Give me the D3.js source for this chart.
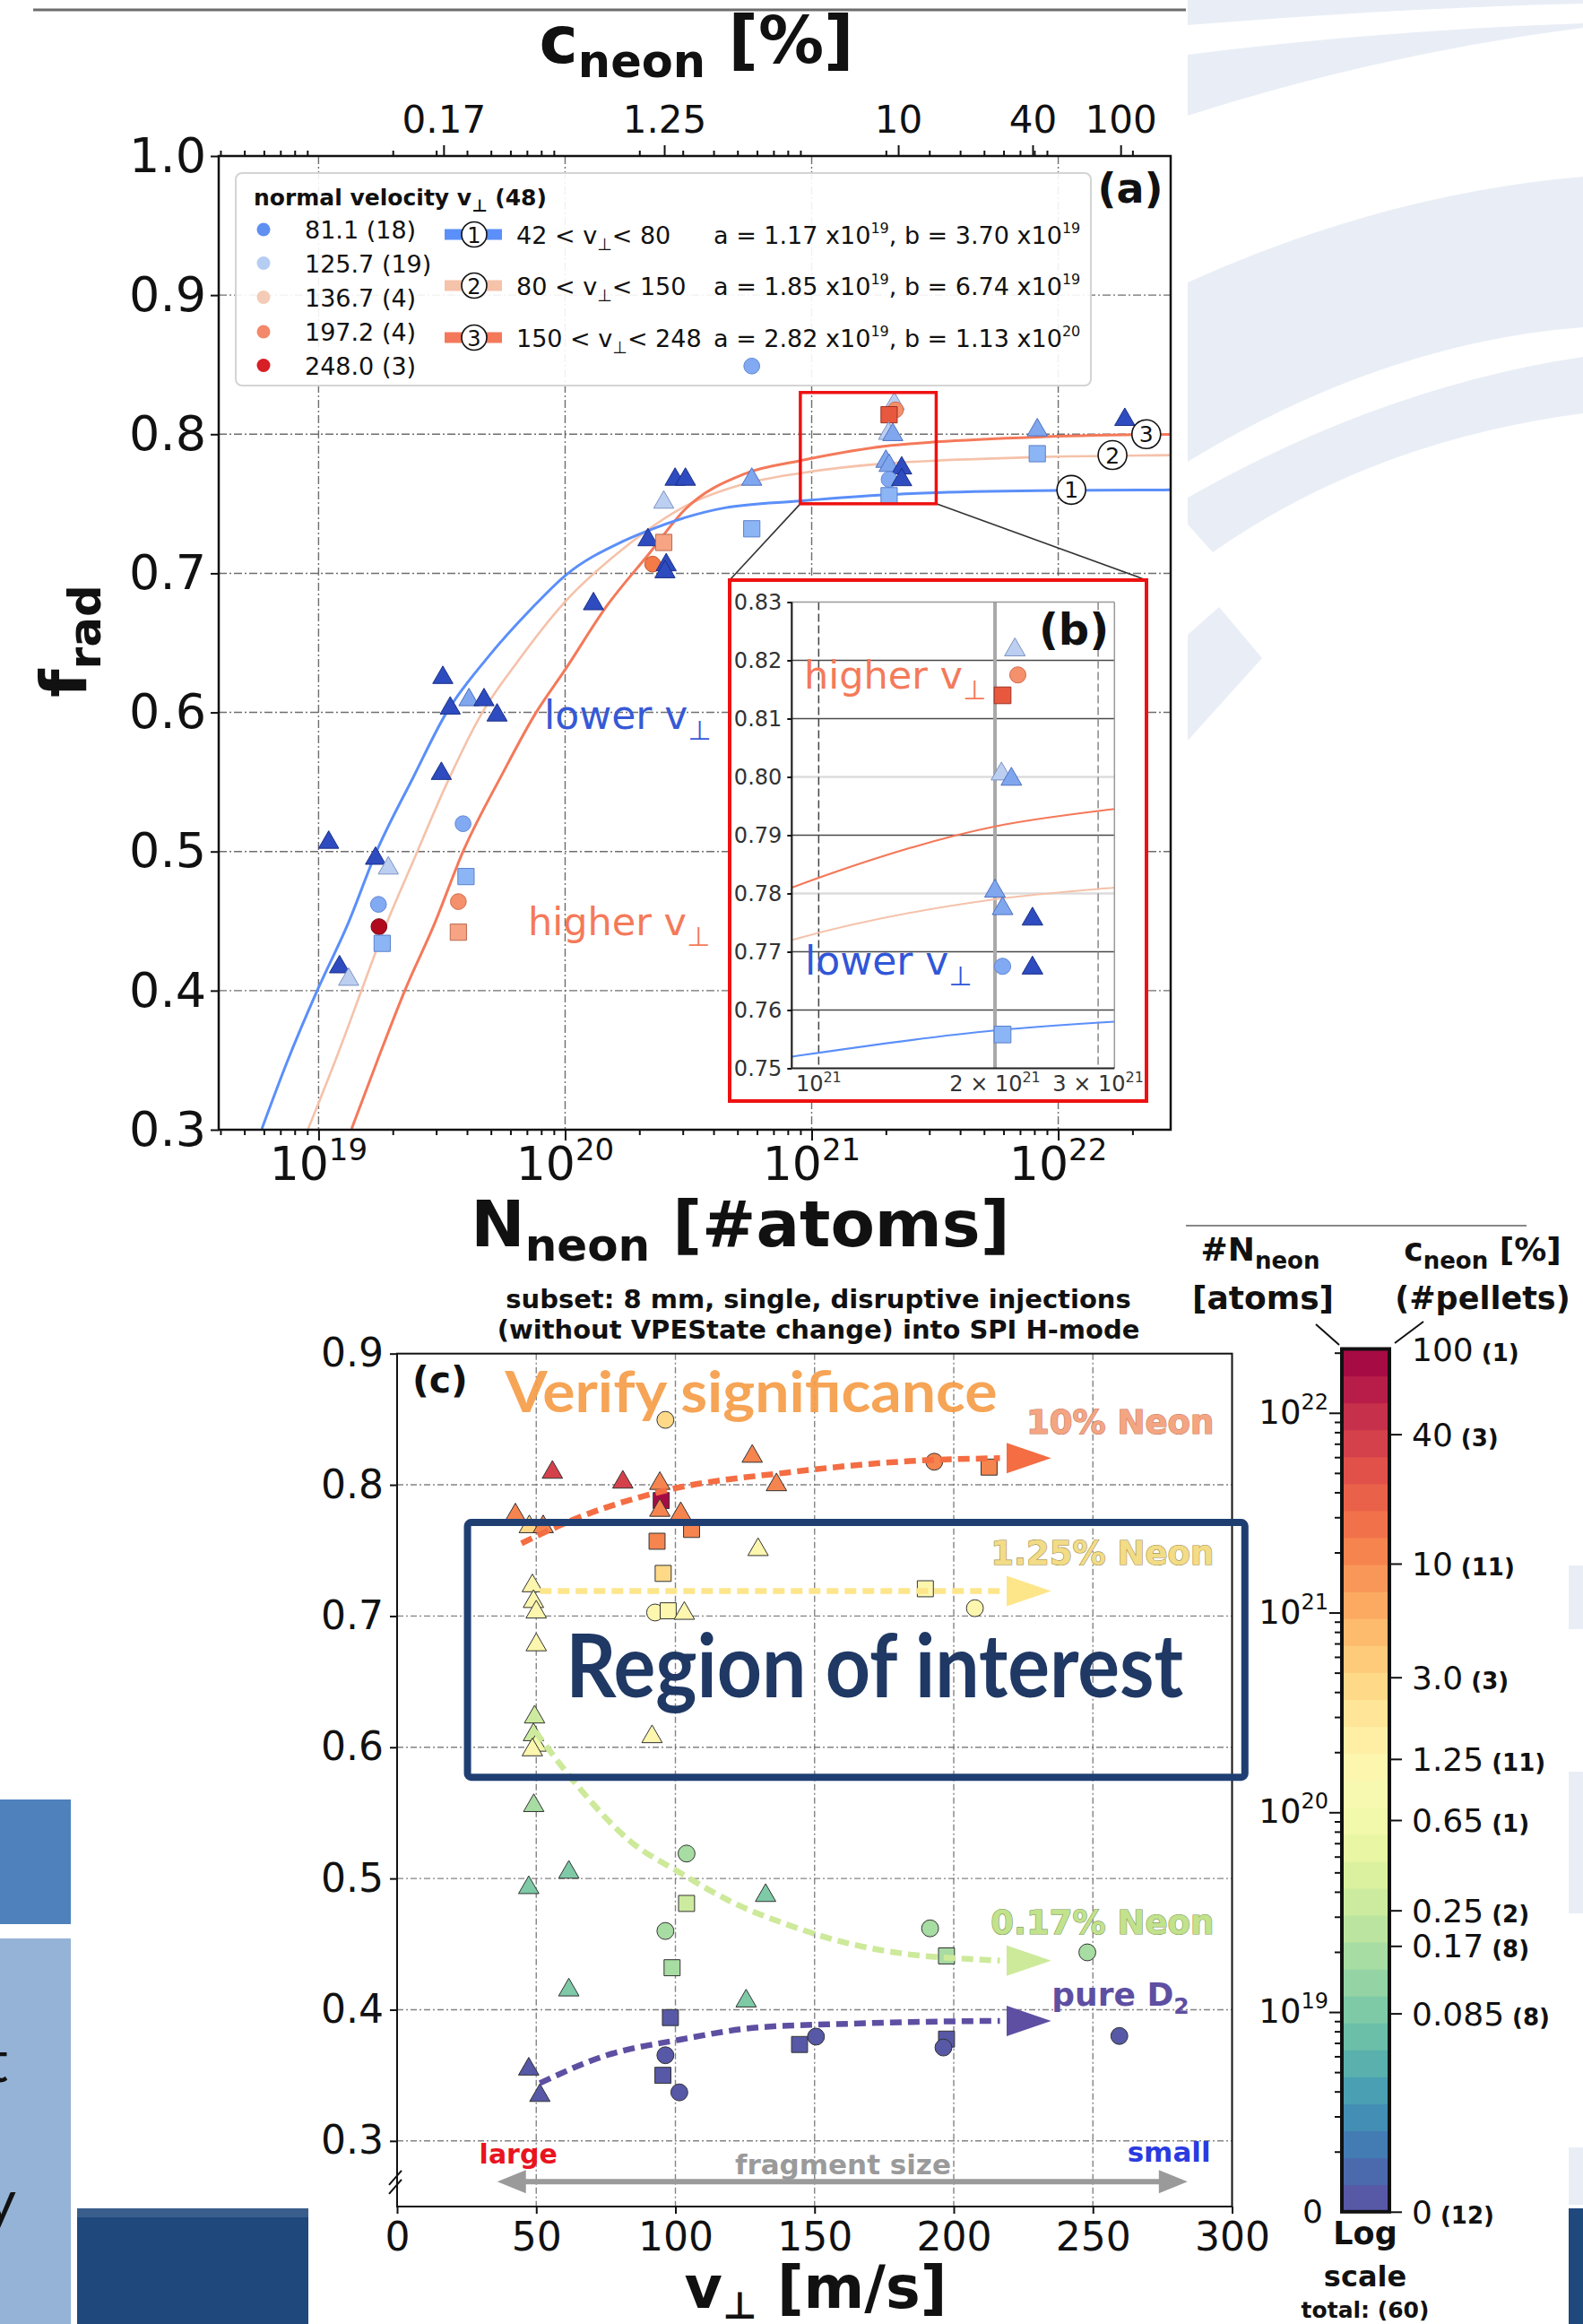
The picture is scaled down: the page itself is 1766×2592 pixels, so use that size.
<!DOCTYPE html>
<html>
<head>
<meta charset="utf-8">
<script src="https://d3js.org/d3.v7.min.js"></script>
<style>
  html, body { margin: 0; padding: 0; background: #ffffff; }
  svg { display: block; }
</style>
</head>
<body>
<svg id="fig" width="1766" height="2592" xmlns="http://www.w3.org/2000/svg"></svg>
<script>
// ================= data =================
// panel (a): radiated fraction vs. injected neon atoms (log10 N)
const aExp = [19.041,19.231,19.283,19.243,19.245,19.258,19.085,19.122,19.504,19.534,19.610,19.671,19.724,19.498,19.586,19.598,19.567,19.567,
              20.115,20.336,20.400,20.355,20.410,20.405,20.400,20.446,20.488,20.757,20.757,20.757,21.915,21.915,22.270,
              21.335,21.340,21.314,21.312,21.329,21.301,21.314,21.365,21.314,21.365,21.314];
const aFrad = [0.5065,0.495,0.488,0.462,0.446,0.434,0.417,0.408,0.625,0.603,0.609,0.609,0.598,0.556,0.520,0.482,0.464,0.442,
               0.678,0.724,0.7222,0.7066,0.706,0.701,0.751,0.7675,0.7675,0.7675,0.732,0.849,0.803,0.786,0.8105,
               0.8218,0.8175,0.814,0.8005,0.7996,0.7804,0.7774,0.7756,0.7675,0.7672,0.7558];
const aShape = ['tri','tri','tri','circ','circ','sq','tri','tri','tri','tri','tri','tri','tri','tri','circ','sq','circ','sq',
                'tri','tri','sq','circ','tri','tri','tri','tri','tri','tri','sq','circ','tri','sq','tri',
                'tri','circ','sq','tri','tri','tri','tri','tri','circ','tri','sq'];
const aTone = ['dark','dark','light','blue','darkred','ltsq','dark','light','dark','dark','mid','dark','dark','dark','blue','ltsq','salmon','salmonsq',
               'dark','dark','salmonsq','orange','dark','dark','light','dark','dark','mid','ltsq','blue','mid','ltsq','dark',
               'light','salmon','red','light','mid','mid','mid','dark','blue','dark','ltsq'];

// fitted saturation curves (log10 N, f_rad)
const fit1Exp = [18.77,18.873,19.0,19.116,19.237,19.383,19.516,19.685,19.867,20.0,20.231,20.327,20.485,20.648,20.954,21.301,21.505,21.996,22.5];
const fit1F   = [0.3007,0.349,0.4022,0.4467,0.5008,0.553,0.599,0.6393,0.6753,0.6983,0.7227,0.730,0.740,0.7471,0.752,0.7565,0.758,0.7596,0.760];
const fit2Exp = [18.958,19.079,19.176,19.273,19.383,19.516,19.661,19.807,20.0,20.231,20.485,20.732,20.954,21.301,21.505,21.912,22.5];
const fit2F   = [0.3007,0.3548,0.401,0.447,0.4927,0.5473,0.599,0.6365,0.6796,0.717,0.748,0.7645,0.772,0.779,0.781,0.7835,0.785];
const fit3Exp = [19.134,19.237,19.352,19.467,19.588,19.746,19.879,20.0,20.17,20.34,20.485,20.732,20.954,21.301,21.505,21.912,22.5];
const fit3F   = [0.3007,0.349,0.401,0.4467,0.5008,0.556,0.599,0.6307,0.6768,0.714,0.7457,0.7718,0.781,0.7915,0.7945,0.798,0.800];
const fitLabelExp = [22.053, 22.22, 22.357];

// velocity classes in the legend
const velValues = ['81.1','125.7','136.7','197.2','248.0'];
const velCounts = [18,19,4,4,3];
const velRanges = [['42','80'],['80','150'],['150','248']];
const fitA = ['1.17','1.85','2.82'];  const fitAExp = ['19','19','19'];
const fitB = ['3.70','6.74','1.13'];  const fitBExp = ['19','19','20'];

// axis ticks of panel (a)
const nDecades = [19,20,21,22];
const fTicksA = [0.3,0.4,0.5,0.6,0.7,0.8,0.9,1.0];
const cTopLabels = ['0.17','1.25','10','40','100'];
const cTopExp = [19.507,20.402,21.351,21.896,22.253];

// inset (b) window
const insetExp = [20.954, 21.505];
const insetF = [0.75, 0.83];
const insetYTicks = [0.75,0.76,0.77,0.78,0.79,0.80,0.81,0.82,0.83];
const insetXTicks = [1, 2, 3];

// panel (c): radiated fraction vs. normal velocity, coloured by neon content
const cVel  = [96.4,55.8,81.1,127.6,136.3,193.0,212.7,42.5,47.5,52.5,94.4,94.9,94.4,101.9,105.8,93.4,95.6,129.7,189.8,207.6,92.7,97.4,103.2,
               48.6,49.0,50.0,50.0,49.4,49.0,50.0,48.6,91.6,49.1,104.0,47.3,61.7,104.0,132.4,96.4,98.8,191.5,197.4,248.0,61.7,125.4,
               98.2,150.5,144.6,259.5,197.4,196.3,96.4,95.5,101.4,47.3,51.3];
const cFrad = [0.8495,0.8095,0.802,0.8217,0.800,0.8176,0.8135,0.777,0.768,0.768,0.801,0.788,0.7805,0.778,0.766,0.757,0.7325,0.7506,0.7208,0.706,0.7027,0.704,0.702,
               0.723,0.711,0.703,0.678,0.623,0.6095,0.6015,0.598,0.608,0.5555,0.519,0.493,0.5047,0.481,0.487,0.460,0.432,0.462,0.441,0.4437,0.415,0.4066,
               0.394,0.3795,0.3735,0.380,0.3776,0.3712,0.3653,0.350,0.337,0.3547,0.3346];
const cShape = ['circ','tri','tri','tri','tri','circ','sq','tri','tri','tri','tri','sq','tri','tri','sq','sq','sq','tri','sq','circ','circ','sq','tri',
                'tri','tri','tri','tri','tri','tri','tri','tri','tri','tri','circ','tri','tri','sq','tri','circ','sq','circ','sq','circ','tri','tri',
                'sq','circ','sq','circ','sq','circ','circ','sq','circ','tri','tri'];
const cConc = [3.0,40,40,10,10,10,10,10,3.0,10,10,100,10,10,10,10,3.0,1.25,1.25,1.25,1.25,1.25,1.25,
               1.25,1.25,1.25,1.25,0.25,0.25,0.65,1.25,1.25,0.17,0.17,0.085,0.085,0.25,0.085,0.17,0.17,0.17,0.17,0.17,0.085,0.085,
               0,0,0,0,0,0,0,0,0,0,0];

// trend arrows of panel (c)
const trend10Vel = [44.7,64.4,97.1,140.7,184.3,216.6];
const trend10F   = [0.7554,0.7744,0.796,0.8095,0.8181,0.8203];
const trend125Vel = [51.3,216.6];
const trend125F   = [0.719,0.719];
const trend017Vel = [49.7,64.4,84.0,101.4,118.9,140.7,162.5,184.3,206.1,216.6];
const trend017F   = [0.612,0.5717,0.528,0.5047,0.4835,0.4645,0.4504,0.4421,0.4386,0.4374];
const trendD2Vel = [51.3,75.3,101.4,129.7,162.5,195.2,216.6];
const trendD2F   = [0.344,0.3653,0.3771,0.3865,0.3893,0.391,0.3915];
const velTicksC = [0,50,100,150,200,250,300];
const fTicksC = [0.3,0.4,0.5,0.6,0.7,0.8,0.9];

// colour bar
const cbarConc = [100,40,10,3.0,1.25,0.65,0.25,0.17,0.085,0];
const cbarConcLabel = ['100','40','10','3.0','1.25','0.65','0.25','0.17','0.085','0'];
const cbarPellets = [1,3,11,3,11,1,2,8,8,12];
const cbarLogN = [22.32,21.893,21.245,20.676,20.267,19.961,19.509,19.331,18.993,18.0];
const cbarDecades = [19,20,21,22];
const cbarBands = 32;

// ================= drawing =================
const svg = d3.select('#fig');
const DJ = "'DejaVu Sans', Verdana, sans-serif";
const SLIDE = "Lato, 'Open Sans', sans-serif";

function rich(parent, x, y, parts, style) {
  const t = parent.append('text').attr('x', x).attr('y', y);
  Object.entries(style || {}).forEach(([k, v]) => t.style(k, v));
  let cur = 0;
  parts.forEach(p => {
    const s = t.append('tspan').text(p.t);
    const off = p.off || 0;
    if (off !== cur) { s.attr('dy', off - cur); cur = off; }
    if (p.fs) s.style('font-size', p.fs + 'px');
    if (p.fw) s.style('font-weight', p.fw);
    if (p.fill) s.style('fill', p.fill);
  });
  return t;
}
function styleAxis(g, fs, col) {
  g.select('.domain').remove();
  g.selectAll('.tick line').attr('stroke', col || '#111').attr('stroke-width', 2);
  g.selectAll('.tick text').style('font-family', DJ).style('font-size', fs + 'px').attr('fill', '#111');
}
const symType = { tri: d3.symbolTriangle, circ: d3.symbolCircle, sq: d3.symbolSquare };

// ---------- slide background decoration ----------
const deco = svg.append('g');
[
  'M1325,0 L1766,0 L1766,4 Q1540,10 1325,28 Z',
  'M1325,61 Q1540,34 1766,26 L1766,31 Q1540,60 1325,129 Z',
  'M1325,315 Q1544,216 1766,197 L1766,365 Q1544,382 1325,515 Z',
  'M1325,555 Q1544,431 1766,398 L1766,461 Q1530,492 1353,616 L1325,585 Z',
  'M1325,708 L1360,677 L1408,734 L1325,826 Z'
].forEach(d => deco.append('path').attr('d', d).attr('fill', '#e9eef6'));
deco.append('rect').attr('x', 1750).attr('y', 1746).attr('width', 16).attr('height', 71).attr('fill', '#e9eef6');
deco.append('rect').attr('x', 1750).attr('y', 1976).attr('width', 16).attr('height', 158).attr('fill', '#e9eef6');
deco.append('rect').attr('x', 1750).attr('y', 2395).attr('width', 16).attr('height', 64).attr('fill', '#e9eef6');
deco.append('rect').attr('x', 1750).attr('y', 2463).attr('width', 16).attr('height', 129).attr('fill', '#1f497d');
deco.append('rect').attr('x', 0).attr('y', 2007).attr('width', 79).attr('height', 139).attr('fill', '#4f81bd');
deco.append('rect').attr('x', 0).attr('y', 2162).attr('width', 79).attr('height', 430).attr('fill', '#95b3d7');
deco.append('rect').attr('x', 86).attr('y', 2463).attr('width', 258).attr('height', 129).attr('fill', '#1f497d');
deco.append('rect').attr('x', 86).attr('y', 2463).attr('width', 258).attr('height', 10).attr('fill', '#3a5e8c');
deco.append('text').attr('x', 9).attr('y', 2322).attr('text-anchor', 'end').style('font-family', SLIDE).style('font-size', '66px').attr('fill', '#111').text('t');
deco.append('text').attr('x', 18).attr('y', 2478).attr('text-anchor', 'end').style('font-family', SLIDE).style('font-size', '66px').attr('fill', '#111').text('y');
svg.append('line').attr('x1', 37).attr('x2', 1323).attr('y1', 11).attr('y2', 11).attr('stroke', '#6d6d6d').attr('stroke-width', 3);

// ================= panel (a) =================
const A = { L: 244, R: 1306, T: 174, B: 1260 };
const xA = d3.scaleLog().domain([10 ** 18.595, 10 ** 22.456]).range([A.L, A.R]);
const yA = d3.scaleLinear().domain([0.3, 1.0]).range([A.B, A.T]);
const gA = svg.append('g');
const defs = svg.append('defs');
defs.append('clipPath').attr('id', 'clipA').append('rect').attr('x', A.L).attr('y', A.T).attr('width', A.R - A.L).attr('height', A.B - A.T);

const gridStyle = sel => sel.attr('stroke', '#555').attr('stroke-width', 1.4).attr('stroke-dasharray', '9,3,2,3').attr('opacity', 0.85);
gA.append('g').selectAll('line').data(nDecades).join('line')
  .attr('x1', d => xA(10 ** d)).attr('x2', d => xA(10 ** d)).attr('y1', A.T).attr('y2', A.B).call(gridStyle);
gA.append('g').selectAll('line').data(fTicksA.slice(1, -1)).join('line')
  .attr('x1', A.L).attr('x2', A.R).attr('y1', d => yA(d)).attr('y2', d => yA(d)).call(gridStyle);

// log minor ticks shared by the N axes
const minorA = [];
[18, 19, 20, 21, 22].forEach(e => d3.range(2, 10).forEach(k => {
  const v = k * 10 ** e; if (v > xA.domain()[0] && v < xA.domain()[1]) minorA.push(v);
}));
gA.append('g').attr('transform', `translate(0,${A.B})`).call(d3.axisBottom(xA).tickValues(minorA).tickSize(6).tickFormat('')).call(styleAxis, 10);
gA.append('g').attr('transform', `translate(0,${A.B})`).call(d3.axisBottom(xA).tickValues(nDecades.map(d => 10 ** d)).tickSize(12).tickFormat('')).call(styleAxis, 10);
gA.append('g').attr('transform', `translate(0,${A.T})`).call(d3.axisTop(xA).tickValues(minorA).tickSize(6).tickFormat('')).call(styleAxis, 10);
gA.append('g').attr('transform', `translate(0,${A.T})`)
  .call(d3.axisTop(xA).tickValues(cTopExp.map(d => 10 ** d)).tickSize(12).tickPadding(14).tickFormat((d, i) => cTopLabels[i]))
  .call(styleAxis, 42);
gA.append('g').attr('transform', `translate(${A.L},0)`)
  .call(d3.axisLeft(yA).tickValues(fTicksA).tickSize(9).tickPadding(5).tickFormat(d3.format('.1f')))
  .call(styleAxis, 54);
nDecades.forEach(d => rich(gA, xA(10 ** d), 1316, [{ t: '10' }, { t: String(d), fs: 34, off: -22 }],
  { 'font-family': DJ, 'font-size': '52px', 'text-anchor': 'middle', fill: '#111' }));

// titles
rich(gA, 777, 70, [{ t: 'c' }, { t: 'neon', fs: 51, off: 16 }, { t: ' [%]', off: 0 }],
  { 'font-family': DJ, 'font-size': '73px', 'font-weight': 'bold', 'text-anchor': 'middle', fill: '#111' });
rich(gA, 826, 1390, [{ t: 'N' }, { t: 'neon', fs: 50, off: 16 }, { t: ' [#atoms]', off: 0 }],
  { 'font-family': DJ, 'font-size': '72px', 'font-weight': 'bold', 'text-anchor': 'middle', fill: '#111' });
rich(gA, 0, 0, [{ t: 'f' }, { t: 'rad', fs: 50, off: 16 }],
  { 'font-family': DJ, 'font-size': '72px', 'font-weight': 'bold', 'text-anchor': 'middle', fill: '#111' })
  .attr('transform', 'translate(96,715) rotate(-90)');

// fitted curves
const tonesFit = ['#5b8ff9', '#f5c2aa', '#f4795a'];
const fits = [[fit1Exp, fit1F], [fit2Exp, fit2F], [fit3Exp, fit3F]];
const fitPath = (sx, sy, k) => d3.line().curve(d3.curveMonotoneX)(fits[k][0].map((e, i) => [sx(10 ** e), sy(fits[k][1][i])]));
const gFitA = gA.append('g').attr('clip-path', 'url(#clipA)');
[1, 2, 0].forEach(k => gFitA.append('path').attr('d', fitPath(xA, yA, k)).attr('fill', 'none')
  .attr('stroke', tonesFit[k]).attr('stroke-width', k === 1 ? 2.6 : 3));

// legend
const gLeg = gA.append('g');
gLeg.append('rect').attr('x', 263).attr('y', 193).attr('width', 954).attr('height', 237).attr('rx', 7)
  .attr('fill', '#ffffff').attr('fill-opacity', 0.9).attr('stroke', '#d4d4d4').attr('stroke-width', 2);
rich(gLeg, 283, 229, [{ t: 'normal velocity v' }, { t: '⊥', fs: 19, off: 7 }, { t: ' (48)', off: 0 }],
  { 'font-family': DJ, 'font-size': '25px', 'font-weight': 'bold', fill: '#111' });
const velColors = ['#5f8ff0', '#b6cdf2', '#f4cbb6', '#f4886a', '#d71f26'];
const legRowY = [256, 293.5, 331.5, 370, 407.5];
velValues.forEach((v, i) => {
  gLeg.append('circle').attr('cx', 294).attr('cy', legRowY[i]).attr('r', 7.5).attr('fill', velColors[i]);
  gLeg.append('text').attr('x', 340).attr('y', legRowY[i] + 10).style('font-family', DJ).style('font-size', '27px')
    .attr('fill', '#111').text(`${v} (${velCounts[i]})`);
});
const fitRowY = [261.5, 318.5, 376.5];
const fitLegColors = ['#5b8ff9', '#f5c2aa', '#f4795a'];
velRanges.forEach((r, i) => {
  gLeg.append('rect').attr('x', 496).attr('y', fitRowY[i] - 6).attr('width', 64).attr('height', 12).attr('fill', fitLegColors[i]);
  gLeg.append('circle').attr('cx', 529).attr('cy', fitRowY[i]).attr('r', 14).attr('fill', '#fff').attr('stroke', '#111').attr('stroke-width', 1.6);
  gLeg.append('text').attr('x', 529).attr('y', fitRowY[i] + 9).attr('text-anchor', 'middle').style('font-family', DJ).style('font-size', '24px').attr('fill', '#111').text(String(i + 1));
  rich(gLeg, 576, fitRowY[i] + 10, [{ t: `${r[0]} < v` }, { t: '⊥', fs: 19, off: 7 }, { t: `< ${r[1]}`, off: 0 }],
    { 'font-family': DJ, 'font-size': '27px', fill: '#111' });
  rich(gLeg, 796, fitRowY[i] + 10, [{ t: `a = ${fitA[i]} x10` }, { t: fitAExp[i], fs: 16, off: -12 },
    { t: `, b = ${fitB[i]} x10`, off: 0 }, { t: fitBExp[i], fs: 16, off: -12 }],
    { 'font-family': DJ, 'font-size': '27px', fill: '#111' });
});
gA.append('text').attr('x', 1261).attr('y', 226).attr('text-anchor', 'middle').style('font-family', DJ).style('font-size', '46px')
  .style('font-weight', 'bold').attr('fill', '#111').text('(a)');

// markers
const tone = {
  dark: ['#2e4cc0', '#1b2f86'], mid: ['#80a7ed', '#4d70c2'], light: ['#bccff1', '#7b92c2'], blue: ['#82aaf2', '#5f86d6'],
  ltsq: ['#8cb5f5', '#5a80cc'], salmon: ['#f4906c', '#d06c4c'], salmonsq: ['#f6a483', '#b86a50'], orange: ['#f47a48', '#c55a30'],
  red: ['#e8583e', '#9c3020'], darkred: ['#b10a1d', '#7a0010']
};
const symSizeA = { tri: 220, circ: 245, sq: 330 };
function drawPointsA(parent, sx, sy, idx, scale) {
  parent.selectAll('path.pt').data(idx).join('path').attr('class', 'pt')
    .attr('transform', i => `translate(${sx(10 ** aExp[i])},${sy(aFrad[i])})`)
    .attr('d', i => d3.symbol(symType[aShape[i]], symSizeA[aShape[i]] * scale)())
    .attr('fill', i => tone[aTone[i]][0]).attr('stroke', i => tone[aTone[i]][1]).attr('stroke-width', 1);
}
drawPointsA(gA.append('g').attr('clip-path', 'url(#clipA)'), xA, yA, d3.range(aExp.length), 1);

// circled curve numbers
[0, 1, 2].forEach(k => {
  const cx = xA(10 ** fitLabelExp[k]), cy = yA(fits[k][1][fits[k][1].length - 1]);
  gA.append('circle').attr('cx', cx).attr('cy', cy).attr('r', 16).attr('fill', '#fff').attr('stroke', '#111').attr('stroke-width', 1.6);
  gA.append('text').attr('x', cx).attr('y', cy + 9).attr('text-anchor', 'middle').style('font-family', DJ).style('font-size', '25px').attr('fill', '#111').text(String(k + 1));
});

// annotations in (a)
rich(gA, 607, 813, [{ t: 'lower v' }, { t: '⊥', fs: 30, off: 12 }], { 'font-family': DJ, 'font-size': '44px', fill: '#3659d6' });
rich(gA, 589, 1043, [{ t: 'higher v' }, { t: '⊥', fs: 30, off: 12 }], { 'font-family': DJ, 'font-size': '43px', fill: '#f47a5a' });

// frame of (a)
gA.append('rect').attr('x', A.L).attr('y', A.T).attr('width', A.R - A.L).attr('height', A.B - A.T)
  .attr('fill', 'none').attr('stroke', '#111').attr('stroke-width', 2.5);

// zoom window and connectors
const zx0 = xA(10 ** insetExp[0]), zx1 = xA(10 ** insetExp[1]), zy0 = yA(insetF[1]), zy1 = yA(insetF[0]);
const FR = { L: 814, R: 1279, T: 647, B: 1228 };
gA.append('line').attr('x1', zx0).attr('y1', zy1).attr('x2', FR.L).attr('y2', FR.T).attr('stroke', '#333').attr('stroke-width', 1.6);
gA.append('line').attr('x1', zx1).attr('y1', zy1).attr('x2', FR.R).attr('y2', FR.T).attr('stroke', '#333').attr('stroke-width', 1.6);
gA.append('rect').attr('x', zx0).attr('y', zy0).attr('width', zx1 - zx0).attr('height', zy1 - zy0)
  .attr('fill', 'none').attr('stroke', '#ee1111').attr('stroke-width', 3.5);

// ================= inset (b) =================
const gB = svg.append('g');
const B = { L: 883.3, R: 1243.3, T: 671.5, B: 1191.5 };
const xB = d3.scaleLog().domain(insetExp.map(e => 10 ** e)).range([B.L, B.R]);
const yB = d3.scaleLinear().domain(insetF).range([B.B, B.T]);
gB.append('rect').attr('x', FR.L).attr('y', FR.T).attr('width', FR.R - FR.L).attr('height', FR.B - FR.T).attr('fill', '#fff');
defs.append('clipPath').attr('id', 'clipB').append('rect').attr('x', B.L).attr('y', B.T).attr('width', B.R - B.L).attr('height', B.B - B.T);
const faint = d => Math.abs(d - 0.80) < 1e-6 || Math.abs(d - 0.78) < 1e-6;
gB.selectAll('line.hg').data(insetYTicks.slice(1, -1)).join('line').attr('class', 'hg')
  .attr('x1', B.L).attr('x2', B.R).attr('y1', d => yB(d)).attr('y2', d => yB(d))
  .attr('stroke', d => faint(d) ? '#dcdcdc' : '#4a4a4a')
  .attr('stroke-width', d => faint(d) ? 2.5 : 1.6);
gB.append('line').attr('x1', xB(1e21)).attr('x2', xB(1e21)).attr('y1', B.T).attr('y2', B.B).attr('stroke', '#444').attr('stroke-width', 1.5).attr('stroke-dasharray', '9,4');
gB.append('line').attr('x1', xB(2e21)).attr('x2', xB(2e21)).attr('y1', B.T).attr('y2', B.B).attr('stroke', '#a9a9a9').attr('stroke-width', 4);
gB.append('line').attr('x1', xB(3e21)).attr('x2', xB(3e21)).attr('y1', B.T).attr('y2', B.B).attr('stroke', '#888').attr('stroke-width', 1.5).attr('stroke-dasharray', '9,4');
const gFitB = gB.append('g').attr('clip-path', 'url(#clipB)');
[1, 2, 0].forEach(k => gFitB.append('path').attr('d', fitPath(xB, yB, k)).attr('fill', 'none')
  .attr('stroke', tonesFit[k]).attr('stroke-width', k === 1 ? 2 : 2.2));
const insetIdx = d3.range(aExp.length).filter(i => aExp[i] >= insetExp[0] && aExp[i] <= insetExp[1] && aFrad[i] >= insetF[0] && aFrad[i] <= insetF[1]);
drawPointsA(gB.append('g'), xB, yB, insetIdx, 1.05);
gB.append('line').attr('x1', B.L).attr('x2', B.R).attr('y1', B.T).attr('y2', B.T).attr('stroke', '#999').attr('stroke-width', 1.5);
gB.append('line').attr('x1', B.R).attr('x2', B.R).attr('y1', B.T).attr('y2', B.B).attr('stroke', '#999').attr('stroke-width', 1.5);
gB.append('line').attr('x1', B.L).attr('x2', B.L).attr('y1', B.T).attr('y2', B.B).attr('stroke', '#222').attr('stroke-width', 2.2);
gB.append('line').attr('x1', B.L).attr('x2', B.R).attr('y1', B.B).attr('y2', B.B).attr('stroke', '#222').attr('stroke-width', 2.2);
gB.append('g').attr('transform', `translate(${B.L},0)`)
  .call(d3.axisLeft(yB).tickValues(insetYTicks).tickSize(5).tickPadding(6).tickFormat(d3.format('.2f')))
  .call(styleAxis, 24);
gB.selectAll('.tick text').attr('fill', '#333');
insetXTicks.forEach(m => {
  const parts = m === 1 ? [{ t: '10' }, { t: '21', fs: 16, off: -10 }] : [{ t: `${m} × 10` }, { t: '21', fs: 16, off: -10 }];
  rich(gB, xB(m * 1e21), 1217, parts, { 'font-family': DJ, 'font-size': '24px', 'text-anchor': 'middle', fill: '#333' });
});
gB.append('text').attr('x', 1198).attr('y', 719).attr('text-anchor', 'middle').style('font-family', DJ).style('font-size', '48px')
  .style('font-weight', 'bold').attr('fill', '#111').text('(b)');
rich(gB, 897, 768, [{ t: 'higher v' }, { t: '⊥', fs: 30, off: 12 }], { 'font-family': DJ, 'font-size': '43px', fill: '#f47a5a' });
rich(gB, 898, 1087, [{ t: 'lower v' }, { t: '⊥', fs: 30, off: 12 }], { 'font-family': DJ, 'font-size': '44px', fill: '#3156d8' });
gB.append('rect').attr('x', FR.L).attr('y', FR.T).attr('width', FR.R - FR.L).attr('height', FR.B - FR.T)
  .attr('fill', 'none').attr('stroke', '#ee1111').attr('stroke-width', 4);

// ================= panel (c) =================
const C = { L: 443, R: 1374.5, T: 1509.7, B: 2461 };
const xC = d3.scaleLinear().domain([0, 300]).range([C.L, C.R]);
const yC = d3.scaleLinear().domain([0.25, 0.9]).range([C.B, C.T]);
const gC = svg.append('g');
const gridC = sel => sel.attr('stroke', '#666').attr('stroke-width', 1.4).attr('stroke-dasharray', '7,3,2,3').attr('opacity', 0.8);
gC.append('g').selectAll('line').data(velTicksC.slice(1, -1)).join('line')
  .attr('x1', d => xC(d)).attr('x2', d => xC(d)).attr('y1', C.T).attr('y2', C.B).call(gridC);
gC.append('g').selectAll('line').data(fTicksC.slice(0, -1)).join('line')
  .attr('x1', C.L).attr('x2', C.R).attr('y1', d => yC(d)).attr('y2', d => yC(d)).call(gridC);
gC.append('g').attr('transform', `translate(0,${C.B})`)
  .call(d3.axisBottom(xC).tickValues(velTicksC).tickSize(8).tickPadding(10).tickFormat(d3.format('d')))
  .call(styleAxis, 44);
gC.append('g').attr('transform', `translate(${C.L},0)`)
  .call(d3.axisLeft(yC).tickValues(fTicksC).tickSize(8).tickPadding(7).tickFormat(d3.format('.1f')))
  .call(styleAxis, 44);
rich(gC, 910, 2574, [{ t: 'v' }, { t: '⊥', fs: 42, off: 12 }, { t: ' [m/s]', off: 0 }],
  { 'font-family': DJ, 'font-size': '65px', 'font-weight': 'bold', 'text-anchor': 'middle', fill: '#111' });
gC.append('text').attr('x', 913).attr('y', 1459).attr('text-anchor', 'middle').style('font-family', DJ).style('font-size', '29px')
  .style('font-weight', 'bold').attr('fill', '#111').text('subset: 8 mm, single, disruptive injections');
gC.append('text').attr('x', 913).attr('y', 1493).attr('text-anchor', 'middle').style('font-family', DJ).style('font-size', '29px')
  .style('font-weight', 'bold').attr('fill', '#111').text('(without VPEState change) into SPI H-mode');

// colour of a neon concentration on the banded colour bar
const cbSpan = cbarLogN[0] - cbarLogN[cbarLogN.length - 1];
function bandColor(k) { return d3.interpolateSpectral(1 - (k + 0.5) / cbarBands); }
function concColor(c) {
  const i = cbarConc.indexOf(c);
  const t = (cbarLogN[i] - cbarLogN[cbarLogN.length - 1]) / cbSpan;
  return bandColor(Math.min(cbarBands - 1, Math.floor(t * cbarBands)));
}
const symSizeC = { tri: 225, circ: 280, sq: 320 };
gC.append('g').selectAll('path').data(d3.range(cVel.length)).join('path')
  .attr('transform', i => `translate(${xC(cVel[i])},${yC(cFrad[i])})`)
  .attr('d', i => d3.symbol(symType[cShape[i]], symSizeC[cShape[i]])())
  .attr('fill', i => concColor(cConc[i])).attr('stroke', '#333').attr('stroke-width', 1);

// trend arrows
const trends = [
  [trend10Vel, trend10F, '#f46d43'], [trend125Vel, trend125F, '#fde58a'],
  [trend017Vel, trend017F, '#cde99a'], [trendD2Vel, trendD2F, '#5e4fa2']
];
trends.forEach(([vs, fs, col]) => {
  gC.append('path').attr('d', d3.line().curve(d3.curveMonotoneX)(vs.map((v, i) => [xC(v), yC(fs[i])])))
    .attr('fill', 'none').attr('stroke', col).attr('stroke-width', 6.5).attr('stroke-dasharray', '13,7');
  const yEnd = yC(fs[fs.length - 1]);
  gC.append('path').attr('d', `M${xC(219)},${yEnd - 17} L${xC(235)},${yEnd} L${xC(219)},${yEnd + 17} Z`).attr('fill', col);
});

// fragment-size arrow
const fy = yC(0.2689), fxa = xC(36), fxb = xC(284);
gC.append('line').attr('x1', fxa + 20).attr('x2', fxb - 20).attr('y1', fy).attr('y2', fy).attr('stroke', '#9a9a9a').attr('stroke-width', 6);
gC.append('path').attr('d', `M${fxa},${fy} L${fxa + 32},${fy - 13} L${fxa + 32},${fy + 13} Z`).attr('fill', '#9a9a9a');
gC.append('path').attr('d', `M${fxb},${fy} L${fxb - 32},${fy - 13} L${fxb - 32},${fy + 13} Z`).attr('fill', '#9a9a9a');
gC.append('text').attr('x', xC(29.5)).attr('y', yC(0.2828)).style('font-family', DJ).style('font-size', '30px').style('font-weight', 'bold').attr('fill', '#e8141e').text('large');
gC.append('text').attr('x', xC(160.2)).attr('y', yC(0.2746)).attr('text-anchor', 'middle').style('font-family', DJ).style('font-size', '31px').style('font-weight', 'bold').attr('fill', '#9a9a9a').text('fragment size');
gC.append('text').attr('x', xC(292.3)).attr('y', yC(0.2842)).attr('text-anchor', 'end').style('font-family', DJ).style('font-size', '31px').style('font-weight', 'bold').attr('fill', '#2a3be0').text('small');

// axis break mark
const by = yC(0.2685);
gC.append('path').attr('d', `M${C.L - 9},${by + 3} L${C.L + 5},${by - 13} M${C.L - 9},${by + 13} L${C.L + 5},${by - 3}`).attr('stroke', '#111').attr('stroke-width', 2);

// trend labels
const outlined = (x, y, txt, fill, edge, fs) => gC.append('text').attr('x', x).attr('y', y).attr('text-anchor', 'end')
  .style('font-family', DJ).style('font-size', fs + 'px').style('font-weight', 'bold')
  .attr('fill', fill).attr('stroke', edge).attr('stroke-width', 1.2).attr('paint-order', 'stroke').text(txt);
outlined(xC(293.5), yC(0.8392), '10% Neon', '#f4a582', '#c97c62', 37);
outlined(xC(293.5), yC(0.7392), '1.25% Neon', '#f3dc86', '#9e9050', 37);
outlined(xC(293.5), yC(0.4575), '0.17% Neon', '#c2e28c', '#809a5c', 37);
rich(gC, xC(284.6), yC(0.403), [{ t: 'pure D' }, { t: '2', fs: 25, off: 9 }],
  { 'font-family': DJ, 'font-size': '36px', 'font-weight': 'bold', fill: '#5e4fa2', 'text-anchor': 'end' });
gC.append('text').attr('x', 460).attr('y', 1553).style('font-family', DJ).style('font-size', '41px').style('font-weight', 'bold').attr('fill', '#111').text('(c)');
gC.append('text').attr('x', xC(38.8)).attr('y', yC(0.8554)).attr('textLength', 549).attr('lengthAdjust', 'spacingAndGlyphs')
  .style('font-family', SLIDE).style('font-size', '64px').style('font-weight', 'bold').attr('fill', '#f59c48').attr('fill-opacity', 0.92).text('Verify significance');
gC.append('rect').attr('x', C.L).attr('y', C.T).attr('width', C.R - C.L).attr('height', C.B - C.T)
  .attr('fill', 'none').attr('stroke', '#111').attr('stroke-width', 2);
gC.append('rect').attr('x', xC(25.3)).attr('y', yC(0.7713)).attr('width', xC(304.6) - xC(25.3)).attr('height', yC(0.5772) - yC(0.7713))
  .attr('rx', 4).attr('fill', 'none').attr('stroke', '#1f3f73').attr('stroke-width', 8);
gC.append('text').attr('x', xC(60.6)).attr('y', yC(0.6379)).attr('textLength', 689).attr('lengthAdjust', 'spacingAndGlyphs')
  .style('font-family', SLIDE).style('font-size', '98px').style('font-weight', 'bold').attr('fill', '#1f3864').text('Region of interest');

// ================= colour bar =================
const gK = svg.append('g');
const CB = { L: 1497, R: 1550 };
const yK = d3.scaleLinear().domain([cbarLogN[cbarLogN.length - 1], cbarLogN[0]]).range([2466.8, 1504.5]);
const bandH = cbSpan / cbarBands;
gK.selectAll('rect.band').data(d3.range(cbarBands)).join('rect').attr('class', 'band')
  .attr('x', CB.L).attr('width', CB.R - CB.L)
  .attr('y', k => yK(cbarLogN[cbarLogN.length - 1] + (k + 1) * bandH) - 0.5)
  .attr('height', k => yK(cbarLogN[cbarLogN.length - 1] + k * bandH) - yK(cbarLogN[cbarLogN.length - 1] + (k + 1) * bandH) + 1)
  .attr('fill', k => bandColor(k));
gK.append('rect').attr('x', CB.L).attr('y', yK.range()[1]).attr('width', CB.R - CB.L).attr('height', yK.range()[0] - yK.range()[1])
  .attr('fill', 'none').attr('stroke', '#111').attr('stroke-width', 4);
const minorK = [];
[18, 19, 20, 21, 22].forEach(e => d3.range(2, 10).forEach(k => { const v = e + Math.log10(k); if (v < cbarLogN[0]) minorK.push(v); }));
gK.append('g').attr('transform', `translate(${CB.L - 2},0)`).call(d3.axisLeft(yK).tickValues(minorK).tickSize(6).tickFormat('')).call(styleAxis, 10);
gK.append('g').attr('transform', `translate(${CB.L - 2},0)`).call(d3.axisLeft(yK).tickValues(cbarDecades).tickSize(12).tickFormat('')).call(styleAxis, 10);
cbarDecades.forEach(d => rich(gK, 1482, yK(d) + 12, [{ t: '10' }, { t: String(d), fs: 24, off: -16 }],
  { 'font-family': DJ, 'font-size': '37px', 'text-anchor': 'end', fill: '#111' }));
gK.append('text').attr('x', 1476).attr('y', yK(cbarLogN[cbarLogN.length - 1]) + 12).attr('text-anchor', 'end')
  .style('font-family', DJ).style('font-size', '36px').attr('fill', '#111').text('0');
gK.append('g').attr('transform', `translate(${CB.R + 2},0)`)
  .call(d3.axisRight(yK).tickValues(cbarLogN.slice(1)).tickSize(12).tickFormat('')).call(styleAxis, 10);
cbarLogN.forEach((l, i) => rich(gK, 1575, yK(l) + 13, [{ t: cbarConcLabel[i] }, { t: ` (${cbarPellets[i]})`, fs: 26, fw: 'bold' }],
  { 'font-family': DJ, 'font-size': '36px', fill: '#111' }));
gK.append('line').attr('x1', 1323).attr('x2', 1703).attr('y1', 1367).attr('y2', 1367).attr('stroke', '#888').attr('stroke-width', 2);
rich(gK, 1406, 1406, [{ t: '#N' }, { t: 'neon', fs: 26, off: 9 }], { 'font-family': DJ, 'font-size': '36px', 'font-weight': 'bold', 'text-anchor': 'middle', fill: '#111' });
gK.append('text').attr('x', 1409).attr('y', 1460).attr('text-anchor', 'middle').style('font-family', DJ).style('font-size', '36px').style('font-weight', 'bold').attr('fill', '#111').text('[atoms]');
rich(gK, 1654, 1406, [{ t: 'c' }, { t: 'neon', fs: 26, off: 9 }, { t: ' [%]', off: 0 }], { 'font-family': DJ, 'font-size': '36px', 'font-weight': 'bold', 'text-anchor': 'middle', fill: '#111' });
gK.append('text').attr('x', 1654).attr('y', 1460).attr('text-anchor', 'middle').style('font-family', DJ).style('font-size', '35px').style('font-weight', 'bold').attr('fill', '#111').text('(#pellets)');
gK.append('line').attr('x1', 1468).attr('y1', 1477).attr('x2', 1494).attr('y2', 1500).attr('stroke', '#111').attr('stroke-width', 2);
gK.append('line').attr('x1', 1556).attr('y1', 1498).attr('x2', 1588).attr('y2', 1474).attr('stroke', '#111').attr('stroke-width', 2);
gK.append('text').attr('x', 1523).attr('y', 2503).attr('text-anchor', 'middle').style('font-family', DJ).style('font-size', '35px').style('font-weight', 'bold').attr('fill', '#111').text('Log');
gK.append('text').attr('x', 1523).attr('y', 2550).attr('text-anchor', 'middle').style('font-family', DJ).style('font-size', '32px').style('font-weight', 'bold').attr('fill', '#111').text('scale');
gK.append('text').attr('x', 1523).attr('y', 2585).attr('text-anchor', 'middle').style('font-family', DJ).style('font-size', '25px').style('font-weight', 'bold').attr('fill', '#111').text('total: (60)');
</script>
</body>
</html>
